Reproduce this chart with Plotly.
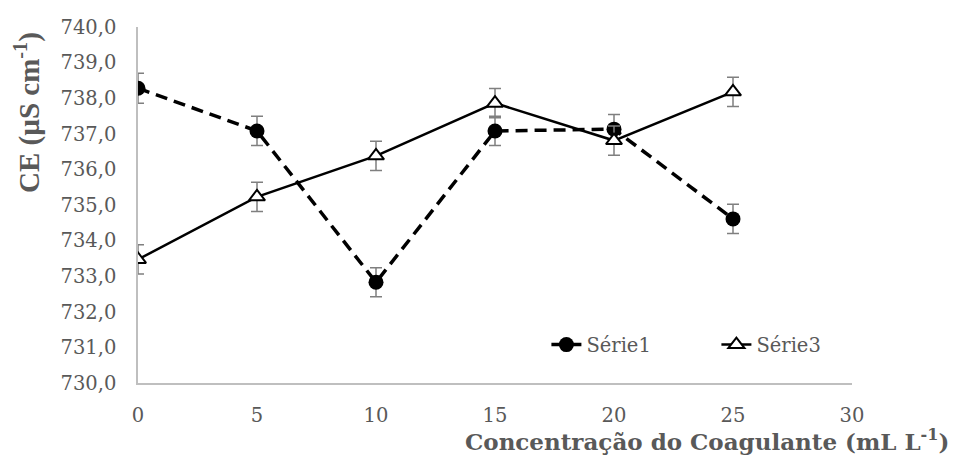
import plotly.graph_objects as go

x_vals = [0, 5, 10, 15, 20, 25]
serie1 = [738.28, 737.08, 732.83, 737.08, 737.13, 734.61]
serie1_err = [0.42, 0.41, 0.41, 0.41, 0.41, 0.41]
serie3 = [733.47, 735.23, 736.38, 737.86, 736.81, 738.18]
serie3_err = [0.41, 0.41, 0.41, 0.41, 0.41, 0.41]
y_ticks = [730 + i for i in range(11)]
y_tick_labels = [f"{v:.1f}".replace(".", ",") for v in y_ticks]
x_ticks = [0, 5, 10, 15, 20, 25, 30]

FONT = "DejaVu Serif"
TFONT = "Liberation Serif"
GREY = "#595959"

fig = go.Figure()
fig.add_trace(go.Scatter(
    x=x_vals, y=serie1, name="Série1", mode="lines+markers",
    line=dict(color="black", width=3.5, dash="12px,7px"),
    marker=dict(symbol="circle", size=15, color="black"),
    error_y=dict(type="data", array=serie1_err, color="#7f7f7f", thickness=1.5, width=6),
))
fig.add_trace(go.Scatter(
    x=x_vals, y=serie3, name="Série3", mode="lines+markers",
    line=dict(color="black", width=2.5),
    marker=dict(symbol="triangle-up", size=14, color="white", line=dict(color="black", width=2)),
    error_y=dict(type="data", array=serie3_err, color="#7f7f7f", thickness=1.5, width=6),
))

fig.update_layout(
    width=955, height=457,
    margin=dict(l=138, r=103, t=27, b=74),
    paper_bgcolor="white", plot_bgcolor="white",
    font=dict(family=FONT, color=GREY, size=19.5),
    showlegend=True,
    legend=dict(orientation="h", x=0.572, y=0.107, xanchor="left", yanchor="middle",
                font=dict(family=FONT, size=19.5, color=GREY),
                entrywidth=125, entrywidthmode="pixels",
                bgcolor="rgba(0,0,0,0)"),
    xaxis=dict(range=[0, 30], tickvals=x_ticks, showgrid=False, zeroline=False,
               showline=True, linecolor="#bfbfbf", linewidth=1.5, ticks="",
               ticklabelstandoff=14,
               tickfont=dict(family=FONT, size=19.5, color=GREY)),
    yaxis=dict(range=[730, 740], tickvals=y_ticks, ticktext=y_tick_labels,
               showgrid=False, zeroline=False, showline=True, linecolor="#bfbfbf",
               linewidth=1.5, ticks="", ticklabelstandoff=16,
               tickfont=dict(family=FONT, size=19.5, color=GREY)),
    annotations=[
        dict(text="<b>CE (µS cm<sup>-1</sup>)</b>", xref="paper", yref="paper",
             x=(27 - 138) / 714, y=1 - (113 - 27) / 356, xanchor="center", yanchor="middle",
             textangle=-90, showarrow=False, font=dict(family=TFONT, size=29, color=GREY)),
        dict(text="<b>Concentração do Coagulante (mL L<sup>-1</sup>)</b>", xref="paper", yref="paper",
             x=(951 - 138) / 714, y=-(440 - 383) / 356, xanchor="right", yanchor="middle",
             showarrow=False, font=dict(family=FONT, size=23, color=GREY)),
    ],
)

fig.write_html("out.html", config={"displayModeBar": False},
               post_script="document.body.style.margin='0px';")
